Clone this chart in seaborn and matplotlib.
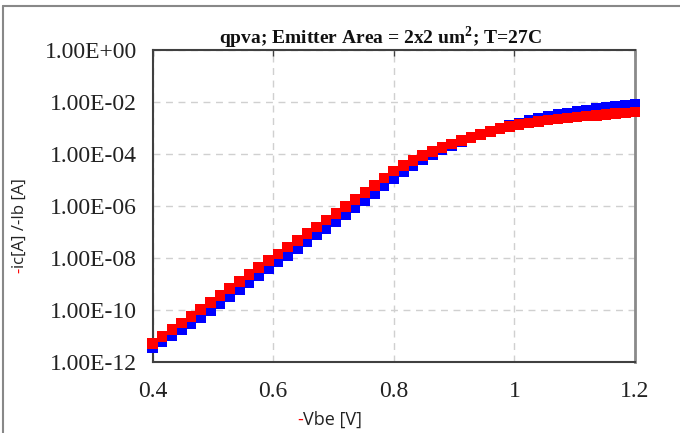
import matplotlib
matplotlib.use("Agg")
import matplotlib.pyplot as plt
import matplotlib.ticker as mticker
from matplotlib.lines import Line2D
import numpy as np
import pandas as pd
import seaborn as sns

# ---- data ----
vbe = [0.400, 0.416, 0.432, 0.448, 0.464, 0.480, 0.496, 0.512, 0.528, 0.544,
       0.560, 0.576, 0.592, 0.608, 0.624, 0.640, 0.656, 0.672, 0.688, 0.704,
       0.720, 0.736, 0.752, 0.768, 0.784, 0.800, 0.816, 0.832, 0.848, 0.864,
       0.880, 0.896, 0.912, 0.928, 0.944, 0.960, 0.976, 0.992, 1.008, 1.024,
       1.040, 1.056, 1.072, 1.088, 1.104, 1.120, 1.136, 1.152, 1.168, 1.184,
       1.200]
# log10 of current [A]
log_ic = [-11.44, -11.22, -10.99, -10.76, -10.52, -10.28, -10.03, -9.77, -9.50, -9.23,
          -8.96, -8.69, -8.42, -8.16, -7.90, -7.64, -7.38, -7.12, -6.86, -6.60,
          -6.34, -6.08, -5.80, -5.52, -5.22, -4.94, -4.68, -4.44, -4.22, -4.02,
          -3.84, -3.68, -3.53, -3.39, -3.26, -3.14, -3.02, -2.91, -2.81, -2.72,
          -2.63, -2.55, -2.48, -2.42, -2.36, -2.31, -2.26, -2.21, -2.17, -2.13,
          -2.09]
log_ib = [-11.28, -11.02, -10.76, -10.50, -10.24, -9.98, -9.72, -9.45, -9.18, -8.91,
          -8.64, -8.37, -8.10, -7.84, -7.58, -7.32, -7.06, -6.80, -6.54, -6.28,
          -6.03, -5.76, -5.49, -5.21, -4.93, -4.66, -4.44, -4.24, -4.06, -3.90,
          -3.75, -3.61, -3.48, -3.36, -3.24, -3.13, -3.03, -2.94, -2.86, -2.80,
          -2.74, -2.69, -2.65, -2.61, -2.58, -2.54, -2.51, -2.48, -2.45, -2.42,
          -2.39]
x_ticks = [0.4, 0.6, 0.8, 1.0, 1.2]
x_tick_labels = ["0.4", "0.6", "0.8", "1", "1.2"]
y_ticks = [1e0, 1e-2, 1e-4, 1e-6, 1e-8, 1e-10, 1e-12]
y_tick_labels = ["1.00E+00", "1.00E-02", "1.00E-04", "1.00E-06", "1.00E-08",
                 "1.00E-10", "1.00E-12"]
title = "qpva; Emitter Area = 2x2 um$^{\\mathbf{2}}$; T=27C"

df = pd.DataFrame({
    "vbe": vbe + vbe,
    "current": [10 ** v for v in log_ic] + [10 ** v for v in log_ib],
    "series": ["ic"] * len(vbe) + ["ib"] * len(vbe),
})

sns.set_style("white")
plt.rcParams["font.family"] = ["Liberation Serif", "DejaVu Serif"]
plt.rcParams["mathtext.fontset"] = "custom"
plt.rcParams["mathtext.rm"] = "Liberation Serif"
plt.rcParams["mathtext.bf"] = "Liberation Serif:bold"

fig = plt.figure(figsize=(6.8, 4.33), dpi=100)
ax = fig.add_axes([0.2243, 0.164, 0.9338 - 0.2243, 0.8845 - 0.164])

sns.scatterplot(data=df, x="vbe", y="current", hue="series",
                palette={"ic": "#0000FF", "ib": "#FF0000"},
                marker="s", s=58, linewidth=0, legend=False, ax=ax, zorder=3,
                clip_on=False)

ax.set_yscale("log")
ax.set_xlim(0.4, 1.2)
ax.set_ylim(1e-12, 1e0)
ax.xaxis.set_major_locator(mticker.FixedLocator(x_ticks))
ax.xaxis.set_major_formatter(mticker.FixedFormatter(x_tick_labels))
ax.yaxis.set_major_locator(mticker.FixedLocator(y_ticks))
ax.yaxis.set_major_formatter(mticker.FixedFormatter(y_tick_labels))
ax.yaxis.set_minor_locator(mticker.NullLocator())
ax.set_xlabel("")
ax.set_ylabel("")

ax.grid(True, which="major", color="#d0d0d0", linestyle=(0, (5, 4)), linewidth=1.0)
ax.tick_params(axis="y", which="major", direction="out", length=5, width=1,
               color="#404040", labelsize=17, pad=6, labelcolor="#222222")
ax.tick_params(axis="x", which="major", direction="in", length=4, width=1,
               color="#404040", labelsize=17, pad=14, top=True, bottom=False,
               labelcolor="#222222")
for side in ["left", "bottom", "top"]:
    ax.spines[side].set_color("#404040")
    ax.spines[side].set_linewidth(1.5)
ax.spines["right"].set_color("#8a8a8a")
ax.spines["right"].set_linewidth(2.0)

# title
fig.text(380 / 680, 1 - 38 / 433, title, ha="center", va="center",
         fontsize=14, fontweight="bold", color="#111111")

# axis labels with red leading dash
lab_font = ["Open Sans", "DejaVu Sans"]
t1 = fig.text(297 / 680, 1 - 420 / 433, "-", color="#ff0000", fontsize=13,
              family=lab_font, ha="left", va="center")
ax.annotate("Vbe [V]", xy=(1, 0.5), xycoords=t1, ha="left", va="center",
            fontsize=13, family=lab_font, color="#222222", annotation_clip=False)

t2 = fig.text(20 / 680, 1 - 273 / 433, "-", color="#ff0000", fontsize=12,
              family=lab_font, ha="center", va="bottom", rotation=90)
ax.annotate("ic[A] /-Ib [A]", xy=(0.5, 1), xycoords=t2, ha="center", va="bottom",
            rotation=90, fontsize=12, family=lab_font, color="#222222",
            annotation_clip=False)

# outer frame lines
fig.add_artist(Line2D([3 / 680, 1.0], [1 - 6 / 433, 1 - 6 / 433],
                      transform=fig.transFigure, color="#888888", linewidth=1.5))
fig.add_artist(Line2D([3 / 680, 3 / 680], [0.0, 1 - 6 / 433],
                      transform=fig.transFigure, color="#888888", linewidth=1.5))

fig.savefig("out.png", dpi=100)
